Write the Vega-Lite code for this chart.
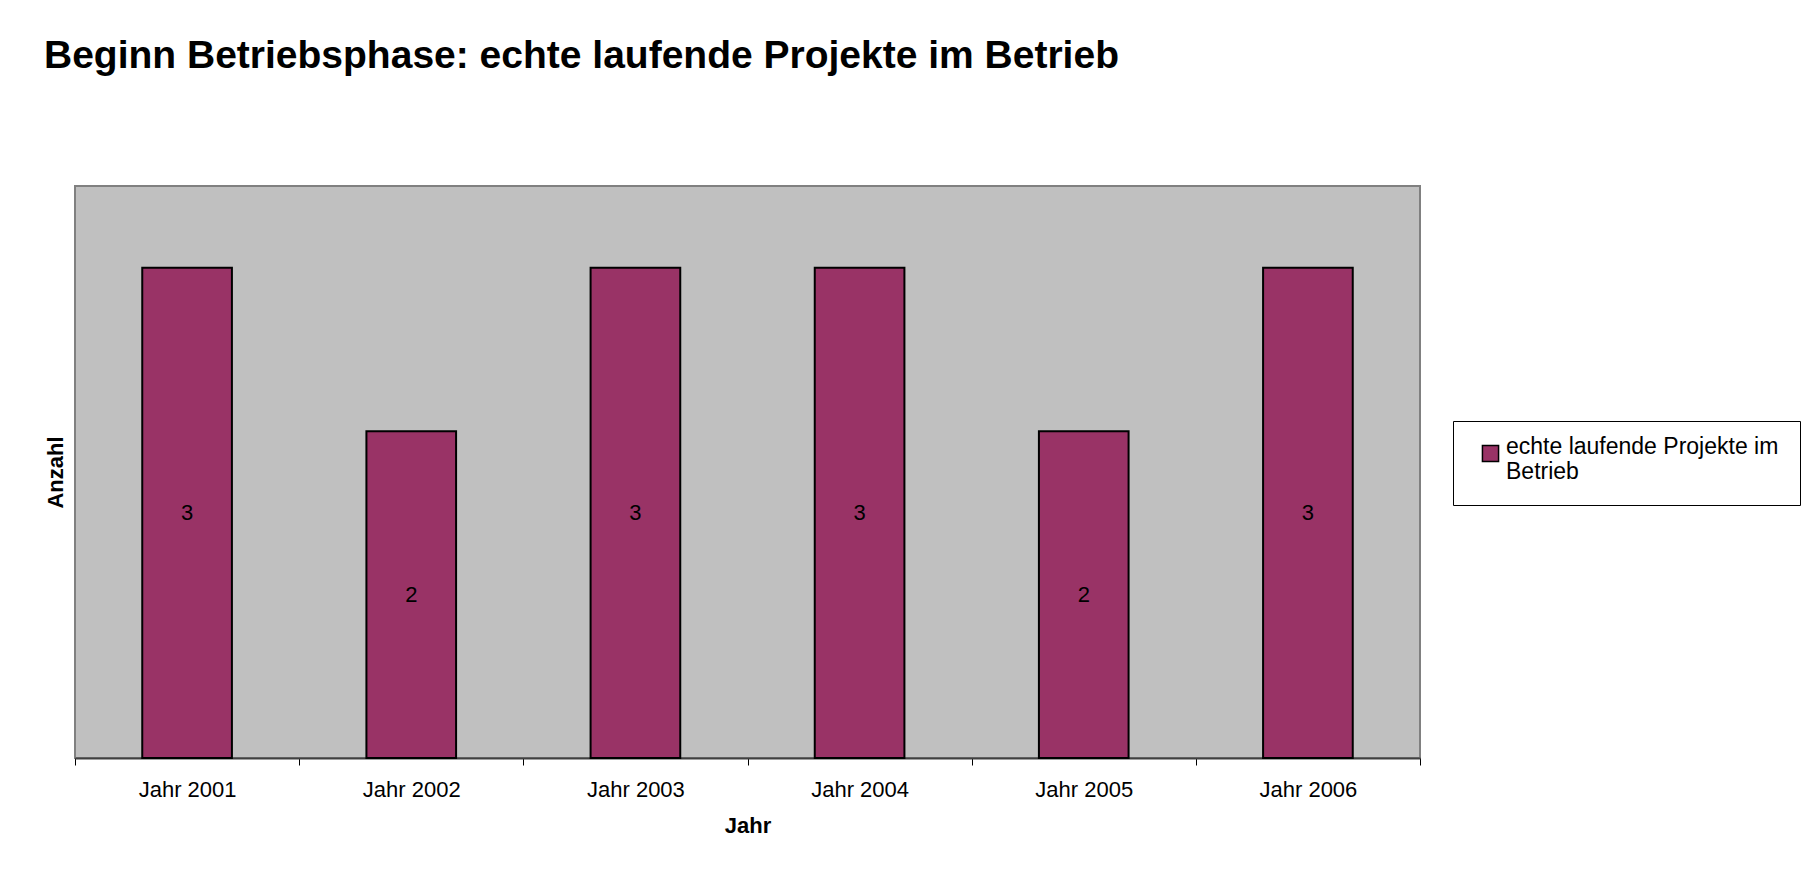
{
  "$schema": "https://vega.github.io/schema/vega-lite/v6.json",
  "width": 1345,
  "height": 572,
  "autosize": "none",
  "padding": {"left": 75, "top": 186, "right": 400, "bottom": 116},
  "background": "white",
  "title": {
    "text": "Beginn Betriebsphase: echte laufende Projekte im Betrieb",
    "anchor": "start",
    "frame": "group",
    "font": "Liberation Sans",
    "fontSize": 39,
    "fontWeight": "bold",
    "color": "black",
    "baseline": "alphabetic",
    "dx": -31,
    "offset": 79
  },
  "data": {
    "values": [
      {"Jahr": "Jahr 2001", "Anzahl": 3, "Serie": "echte laufende Projekte im Betrieb"},
      {"Jahr": "Jahr 2002", "Anzahl": 2, "Serie": "echte laufende Projekte im Betrieb"},
      {"Jahr": "Jahr 2003", "Anzahl": 3, "Serie": "echte laufende Projekte im Betrieb"},
      {"Jahr": "Jahr 2004", "Anzahl": 3, "Serie": "echte laufende Projekte im Betrieb"},
      {"Jahr": "Jahr 2005", "Anzahl": 2, "Serie": "echte laufende Projekte im Betrieb"},
      {"Jahr": "Jahr 2006", "Anzahl": 3, "Serie": "echte laufende Projekte im Betrieb"}
    ]
  },
  "encoding": {
    "x": {
      "field": "Jahr",
      "type": "nominal",
      "scale": {"paddingInner": 0, "paddingOuter": 0},
      "axis": {
        "title": "Jahr",
        "labelAngle": 0,
        "labelFont": "Liberation Sans",
        "labelFontSize": 22,
        "labelColor": "black",
        "labelPadding": 14,
        "tickBand": "extent",
        "tickSize": 7,
        "tickColor": "black",
        "tickWidth": 1,
        "domainColor": "#404040",
        "domainWidth": 2,
        "titleFont": "Liberation Sans",
        "titleFontSize": 22,
        "titleFontWeight": "bold",
        "titleColor": "black",
        "titlePadding": 15,
        "grid": false
      }
    }
  },
  "layer": [
    {
      "mark": {"type": "bar", "stroke": "black", "strokeWidth": 2, "width": {"band": 0.4}},
      "encoding": {
        "y": {
          "field": "Anzahl",
          "type": "quantitative",
          "scale": {"domain": [0, 3.5]},
          "axis": {
            "title": "Anzahl",
            "labels": false,
            "ticks": false,
            "domain": false,
            "grid": false,
            "titleFont": "Liberation Sans",
            "titleFontSize": 22,
            "titleFontWeight": "bold",
            "titleColor": "black",
            "titlePadding": 8
          }
        },
        "color": {
          "field": "Serie",
          "type": "nominal",
          "scale": {"range": ["#993366"]},
          "legend": {
            "orient": "none",
            "legendX": 1378,
            "legendY": 235,
            "title": null,
            "strokeColor": "black",
            "fillColor": "white",
            "padding": 21,
            "symbolType": "square",
            "symbolSize": 260,
            "symbolStrokeColor": "black",
            "symbolStrokeWidth": 1.5,
            "symbolOffset": 5,
            "labelFont": "Liberation Sans",
            "labelFontSize": 23,
            "labelColor": "black",
            "labelOffset": 4,
            "labelLimit": 400,
            "labelBaseline": "alphabetic",
            "labelExpr": "['echte laufende Projekte im', 'Betrieb']",
            "encoding": {
              "labels": {"update": {"lineHeight": {"value": 24}, "dy": {"value": 15}}}
            }
          }
        }
      }
    },
    {
      "mark": {"type": "text", "font": "Liberation Sans", "fontSize": 22, "color": "black", "baseline": "middle"},
      "encoding": {
        "y": {
          "field": "Anzahl",
          "type": "quantitative",
          "scale": {"domain": [0, 7]},
          "axis": null
        },
        "text": {"field": "Anzahl", "type": "quantitative"}
      }
    }
  ],
  "resolve": {"scale": {"y": "independent"}},
  "config": {
    "view": {"fill": "#C0C0C0", "stroke": "#808080", "strokeWidth": 2}
  }
}
